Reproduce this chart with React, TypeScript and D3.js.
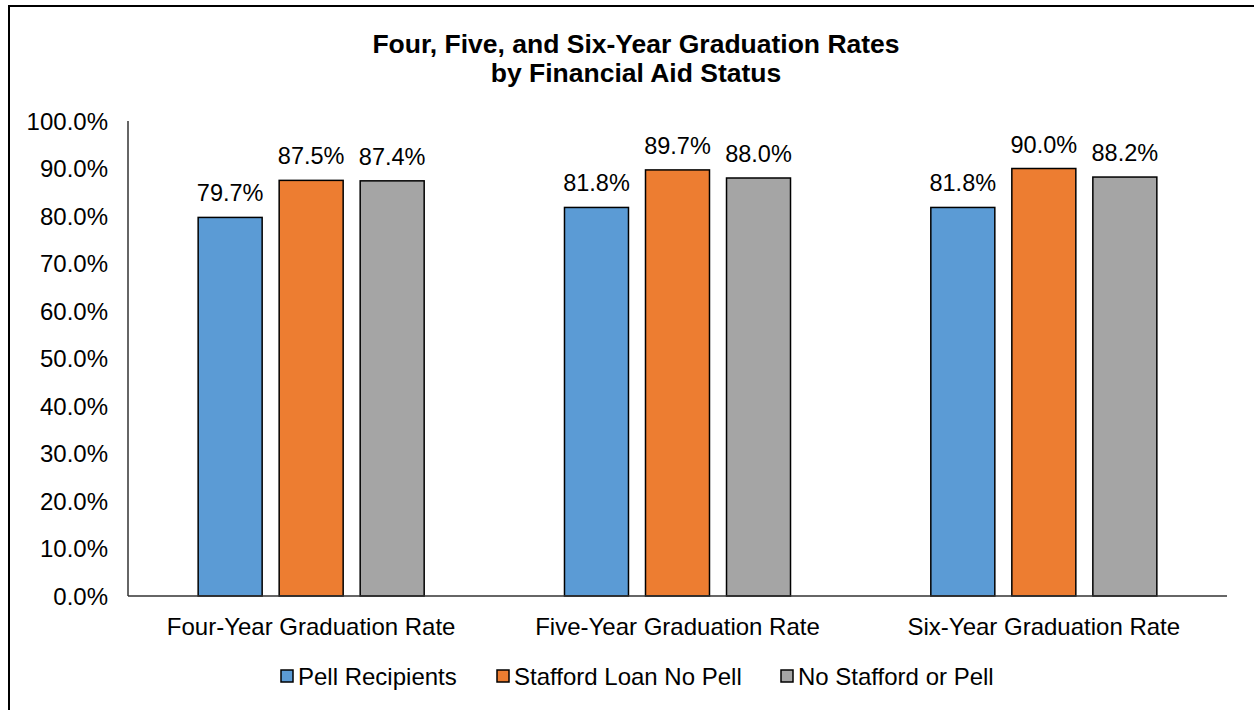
import * as d3 from "d3";

const categories = ["Four-Year Graduation Rate", "Five-Year Graduation Rate", "Six-Year Graduation Rate"];
const seriesNames = ["Pell Recipients", "Stafford Loan No Pell", "No Stafford or Pell"];
const pellValues = [79.7, 81.8, 81.8];
const staffordValues = [87.5, 89.7, 90.0];
const neitherValues = [87.4, 88.0, 88.2];
const yTicks = [0, 10, 20, 30, 40, 50, 60, 70, 80, 90, 100];
const colors = ["#5B9BD5", "#ED7D31", "#A5A5A5"];

const W = 1254;
const H = 710;
const margin = { left: 128, right: 27, top: 121, bottom: 114 };
const font = "Liberation Sans, Arial, sans-serif";

const App = () => {
  const seriesValues = [pellValues, staffordValues, neitherValues];

  const x0 = d3
    .scaleBand()
    .domain(categories)
    .range([margin.left, W - margin.right]);

  const x1 = d3
    .scaleBand()
    .domain(seriesNames)
    .range([0, x0.bandwidth()])
    .paddingInner(0.21)
    .paddingOuter(0.866);

  const y = d3
    .scaleLinear()
    .domain([0, 100])
    .range([H - margin.bottom, margin.top]);

  const legendX = [281, 497, 781];

  return (
    <svg
      width={W}
      height={H}
      style={{ position: "absolute", left: 0, top: 0, background: "#fff" }}
      fontFamily={font}
    >
      <rect x={9} y={6} width={W + 10} height={H + 10} fill="#fff" stroke="#000" strokeWidth={2} />

      <text x={636} y={53} textAnchor="middle" fontSize={26.5} fontWeight="bold" fill="#000">
        Four, Five, and Six-Year Graduation Rates
      </text>
      <text x={636} y={82} textAnchor="middle" fontSize={26.5} fontWeight="bold" fill="#000">
        by Financial Aid Status
      </text>

      {yTicks.map((t) => (
        <text key={t} x={108} y={y(t) + 8.5} textAnchor="end" fontSize={24} fill="#000">
          {t.toFixed(1)}%
        </text>
      ))}

      {categories.map((c, ci) => (
        <g key={c} transform={`translate(${x0(c)},0)`}>
          {seriesNames.map((s, si) => {
            const v = seriesValues[si][ci];
            const bx = x1(s) as number;
            return (
              <g key={s}>
                <rect
                  x={bx}
                  y={y(v)}
                  width={x1.bandwidth()}
                  height={y(0) - y(v)}
                  fill={colors[si]}
                  stroke="#000"
                  strokeWidth={1.5}
                />
                <text
                  x={bx + x1.bandwidth() / 2}
                  y={y(v) - 16}
                  textAnchor="middle"
                  fontSize={23.5}
                  fill="#000"
                >
                  {v.toFixed(1)}%
                </text>
              </g>
            );
          })}
          <text
            x={x0.bandwidth() / 2}
            y={634.5}
            textAnchor="middle"
            fontSize={24}
            fill="#000"
          >
            {c}
          </text>
        </g>
      ))}

      <line x1={margin.left} x2={margin.left} y1={y(100)} y2={y(0)} stroke="#333" strokeWidth={1.5} />
      <line x1={margin.left} x2={W - margin.right} y1={y(0)} y2={y(0)} stroke="#333" strokeWidth={1.5} />

      {seriesNames.map((s, i) => (
        <g key={s} transform={`translate(${legendX[i]},670)`}>
          <rect x={0} y={0} width={12} height={12} fill={colors[i]} stroke="#000" strokeWidth={1.5} />
          <text x={17} y={14.5} fontSize={24} fill="#000">
            {s}
          </text>
        </g>
      ))}
    </svg>
  );
};

export default App;
